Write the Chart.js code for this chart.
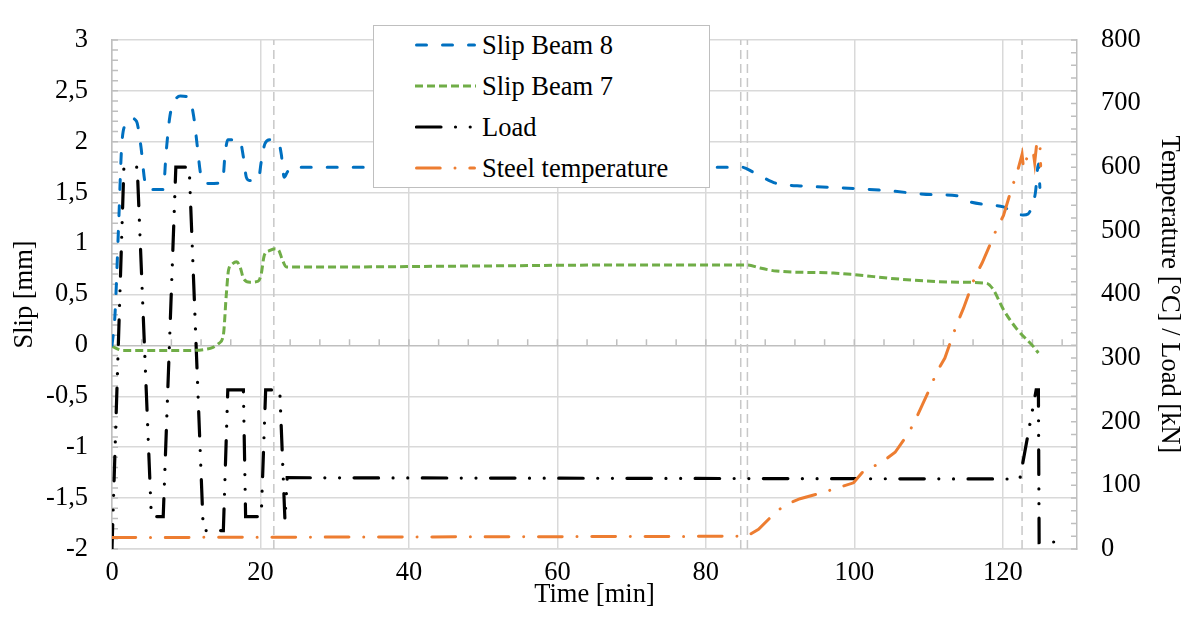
<!DOCTYPE html>
<html>
<head>
<meta charset="utf-8">
<script src="https://cdn.jsdelivr.net/npm/chart.js@4.4.1/dist/chart.umd.min.js"></script>
<style>
  body { margin: 0; background: #fff; }
  #wrap { position: relative; width: 1188px; height: 623px; }
  #legend {
    position: absolute; left: 373px; top: 25px; width: 335px; height: 161px;
    border: 1.5px solid #bfbfbf; background: #fff;
    font-family: 'Liberation Serif', 'Times New Roman', serif; font-size: 26.5px; color: #000;
  }
  #legend .row { position: absolute; left: 0; right: 0; height: 40px; line-height: 40px; white-space: nowrap; }
  #legend svg { position: absolute; left: 41px; top: 15px; }
  #legend span { position: absolute; left: 108px; }
</style>
</head>
<body>
<div id="wrap">
  <canvas id="slipChart" width="1188" height="623"></canvas>
  <div id="legend"></div>
</div>
<script>
// Slip of beam 8 [mm]
const beam8Time = [0, 0.4, 0.9, 1.3, 1.9, 2.6, 3.3, 3.9, 4.4, 4.8, 6.9, 7.3, 7.8, 8.3, 9.2, 10.4, 11.0, 11.5, 11.9, 12.3, 13.0,
  14.9, 15.2, 15.6, 17.2, 17.7, 18.1, 18.5, 19.7, 20.1, 20.6, 21.3, 22.4, 22.8, 23.2, 23.6, 24.1, 50, 84.8, 86.4, 87.7, 89.5,
  90.9, 92.7, 99.9, 104.4, 110.6, 113.8, 114.7, 117.8, 120.1, 121.0, 122.8, 123.4, 123.9, 124.4, 124.8, 125.0];
const beam8Slip = [0, 0.3, 1.2, 1.95, 2.18, 2.23, 2.2, 1.95, 1.62, 1.53, 1.53, 1.9, 2.25, 2.38, 2.45, 2.43, 2.25, 1.95, 1.7, 1.6, 1.59,
  1.6, 1.85, 2.02, 2.02, 1.85, 1.65, 1.62, 1.62, 1.8, 1.98, 2.02, 2.0, 1.88, 1.65, 1.7, 1.75, 1.75, 1.75, 1.70, 1.65, 1.59,
  1.575, 1.566, 1.54, 1.52, 1.48, 1.47, 1.43, 1.38, 1.36, 1.32, 1.28, 1.29, 1.36, 1.5, 1.78, 1.55];

// Slip of beam 7 [mm]
const beam7Time = [0, 1.5, 5, 10, 12.5, 13.6, 14.4, 15.0, 15.4, 15.7, 16.2, 16.8, 17.3, 17.7, 18.6, 19.7, 20.1, 20.5, 21.2, 22.0,
  22.5, 22.9, 23.5, 30, 50, 70, 85.5, 87.3, 89.5, 97.2, 99.9, 106.2, 114.2, 117.8, 118.7, 120.1, 121.9, 124.1, 124.8];
const beam7Slip = [-0.01, -0.05, -0.05, -0.05, -0.04, -0.02, 0.02, 0.1, 0.5, 0.74, 0.80, 0.82, 0.76, 0.66, 0.62, 0.63, 0.7, 0.88, 0.93, 0.95,
  0.93, 0.85, 0.77, 0.77, 0.78, 0.79, 0.79, 0.76, 0.73, 0.71, 0.695, 0.65, 0.62, 0.61, 0.55, 0.35, 0.16, -0.01, -0.075];

// Applied load [kN]
const loadTime = [0, 0.1, 1.6, 3.4, 5.3, 6.9, 8.6, 10.4, 12.3, 15.0, 15.6, 17.7, 18.0, 20.1, 20.7, 22.6, 23.3, 23.6,
  122.3, 124.5, 124.8, 124.9, 128.8];
const loadKN = [0, 40, 600, 600, 51, 51, 600, 600, 29, 29, 250, 250, 51, 51, 250, 250, 45, 112,
  110, 250, 250, 10, 12];

// Steel temperature [°C]
const tempTime = [0, 85.5, 87.1, 89.5, 91.0, 92.7, 96.1, 98.0, 99.9, 101.2, 102.3, 103.9, 105.5, 107.3, 108.2, 109.1, 110.4,
  111.1, 112.2, 113.8, 114.7, 116.3, 117.2, 118.5, 119.2, 120.1, 121.2, 121.9, 122.6, 122.8, 123.4, 124.1, 124.3, 124.6, 125.0, 125.1];
const tempC = [18, 20, 31, 59, 71, 79, 90, 97, 104, 122, 128, 138, 152, 182, 202, 225, 258,
  278, 300, 353, 378, 429, 449, 484, 504, 524, 567, 590, 620, 598, 620, 625, 607, 640, 640, 602];

// Test phase markers [min]
const markerTimes = [21.8, 84.7, 85.6, 122.6];

const toPoints = (xs, ys) => xs.map((x, i) => ({ x: x, y: ys[i] }));

Chart.defaults.font.family = 'Liberation Serif';
Chart.defaults.font.size = 26.5;
Chart.defaults.color = '#000';
const font = { family: 'Liberation Serif, Times New Roman, serif', size: 26.5 };

const formatSlip = v => {
  const r = Math.round(v * 10) / 10;
  return Number.isInteger(r) ? String(r) : r.toFixed(1).replace('.', ',');
};

// small inside ticks on the axes, x ticks sit on the zero line
const minorTicks = {
  id: 'minorTicks',
  beforeDatasetsDraw(chart) {
    const { ctx, chartArea, scales } = chart;
    ctx.save();
    ctx.strokeStyle = '#bfbfbf';
    ctx.lineWidth = 1.5;
    ctx.beginPath();
    for (let i = -20; i <= 30; i++) {
      const py = scales.y.getPixelForValue(i / 10);
      ctx.moveTo(chartArea.left, py);
      ctx.lineTo(chartArea.left + 6, py);
    }
    for (let v = 0; v <= 800; v += 20) {
      const py = scales.y1.getPixelForValue(v);
      ctx.moveTo(chartArea.right - 6, py);
      ctx.lineTo(chartArea.right, py);
    }
    const y0 = scales.y.getPixelForValue(0);
    for (let t = 0; t <= 128; t += 4) {
      const px = scales.x.getPixelForValue(t);
      ctx.moveTo(px, y0 - 6);
      ctx.lineTo(px, y0);
    }
    ctx.stroke();
    ctx.restore();
  }
};

const markerSets = markerTimes.map(t => ({
  data: [{ x: t, y: -2 }, { x: t, y: 3 }],
  yAxisID: 'y',
  borderColor: '#c8c8c8',
  borderWidth: 1.5,
  borderDash: [9, 5],
  order: 10
}));

const ctx = document.getElementById('slipChart').getContext('2d');
const slipChart = new Chart(ctx, {
  type: 'line',
  data: {
    datasets: [
      {
        label: 'Slip Beam 8',
        data: toPoints(beam8Time, beam8Slip),
        yAxisID: 'y',
        borderColor: '#0070C0',
        borderWidth: 3,
        borderDash: [10, 16],
        borderCapStyle: 'round',
        cubicInterpolationMode: 'monotone',
        order: 1
      },
      {
        label: 'Slip Beam 7',
        data: toPoints(beam7Time, beam7Slip),
        yAxisID: 'y',
        borderColor: '#70AD47',
        borderWidth: 3,
        borderDash: [8, 4],
        borderCapStyle: 'butt',
        cubicInterpolationMode: 'monotone',
        order: 2
      },
      {
        label: 'Load',
        data: toPoints(loadTime, loadKN),
        yAxisID: 'y1',
        borderColor: '#000000',
        borderWidth: 3.2,
        borderDash: [24.5, 14.5, 0.01, 14.7, 0.01, 14.5],
        borderCapStyle: 'round',
        tension: 0,
        order: 3
      },
      {
        label: 'Steel temperature',
        data: toPoints(tempTime, tempC),
        yAxisID: 'y1',
        borderColor: '#ED7D31',
        borderWidth: 3,
        borderDash: [23.7, 14.8, 0.01, 14.8],
        borderCapStyle: 'round',
        tension: 0,
        order: 0
      },
      ...markerSets
    ]
  },
  options: {
    responsive: false,
    animation: false,
    devicePixelRatio: 1,
    layout: { padding: { top: 19 } },
    elements: { point: { radius: 0 } },
    plugins: {
      legend: { display: false },
      tooltip: { enabled: false }
    },
    scales: {
      x: {
        type: 'linear',
        min: 0,
        max: 130,
        ticks: { stepSize: 20, padding: 8, font: font, maxRotation: 0 },
        afterBuildTicks: s => { s.ticks = s.ticks.filter(t => t.value % 20 === 0); },
        grid: { color: '#d9d9d9', lineWidth: 1.5, drawTicks: false },
        border: { color: '#d9d9d9', width: 1.5 },
        title: { display: true, text: 'Time [min]', font: font, padding: { bottom: 12 } },
        afterFit: s => { s.height = 74; }
      },
      y: {
        position: 'left',
        min: -2,
        max: 3,
        ticks: { stepSize: 0.5, padding: 24, font: font, callback: v => formatSlip(v) },
        grid: {
          color: c => (c.tick && c.tick.value === 0 ? '#bfbfbf' : '#d9d9d9'),
          lineWidth: 1.5,
          drawTicks: false
        },
        border: { color: '#bfbfbf', width: 1.5 },
        title: { display: true, text: 'Slip [mm]', font: font, padding: { top: 9 } },
        afterFit: s => { s.width = 112; }
      },
      y1: {
        position: 'right',
        min: 0,
        max: 800,
        ticks: { stepSize: 100, padding: 24, font: font },
        grid: { display: false, drawTicks: false },
        border: { color: '#bfbfbf', width: 1.5 },
        title: { display: true, text: 'Temperature [°C] / Load [kN]', font: font, padding: { top: 3 } },
        afterFit: s => { s.width = 111; }
      }
    }
  },
  plugins: [minorTicks]
});

// legend box drawn over the plot, built from the labelled datasets
const legendEl = document.getElementById('legend');
slipChart.data.datasets.filter(d => d.label).forEach((d, i) => {
  const row = document.createElement('div');
  row.className = 'row';
  row.style.top = (-0.8 + i * 40.9) + 'px';
  const round = d.borderCapStyle === 'round';
  const x1 = round ? 1.5 : 0;
  const x2 = round ? 59.5 : 61;
  row.innerHTML =
    '<svg width="62" height="10"><line x1="' + x1 + '" y1="5" x2="' + x2 + '" y2="5" stroke="' + d.borderColor +
    '" stroke-width="' + d.borderWidth + '" stroke-linecap="' + d.borderCapStyle +
    '" stroke-dasharray="' + d.borderDash.join(' ') + '"/></svg><span>' + d.label + '</span>';
  legendEl.appendChild(row);
});
</script>
</body>
</html>
